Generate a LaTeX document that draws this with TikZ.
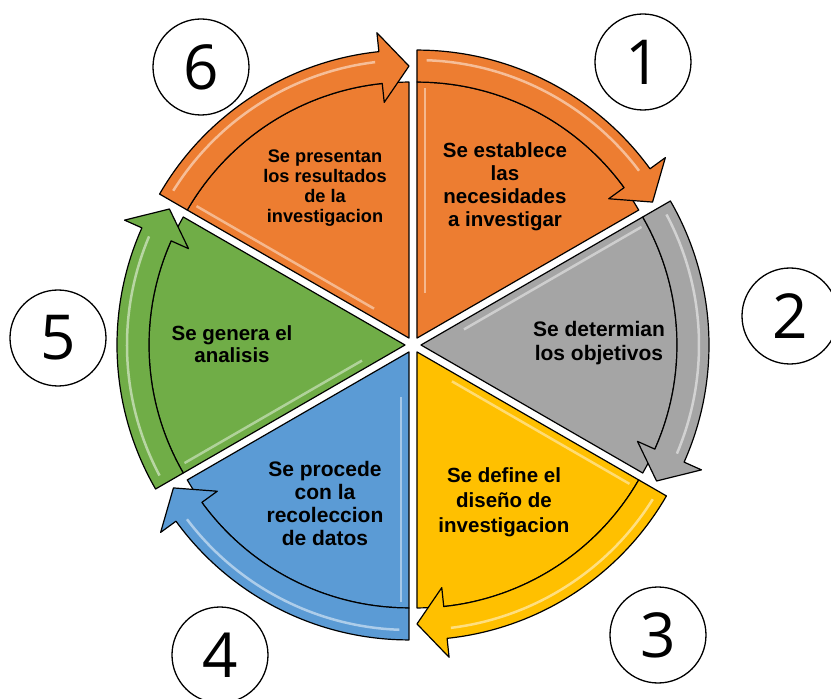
\documentclass[tikz,border=0pt]{standalone}
\usepackage{fontspec}
\setmainfont{Liberation Sans}
\newfontfamily\numfont{Open Sans}
\definecolor{segorange}{HTML}{ED7D31}
\definecolor{seggray}{HTML}{A5A5A5}
\definecolor{segyellow}{HTML}{FFC000}
\definecolor{segblue}{HTML}{5B9BD5}
\definecolor{seggreen}{HTML}{70AD47}
\tikzset{
  segline/.style={draw=black, line width=1.2pt, line join=round},
  numcircle/.style={draw, circle, line width=1.3pt, minimum size=96pt, inner sep=0pt,
    font=\numfont\fontsize{62}{62}\selectfont},
  steptext/.style={align=center, inner sep=0pt, font=\bfseries\fontsize{21}{23}\selectfont}
}
\begin{document}
\begin{tikzpicture}[x=1pt,y=1pt]
\useasboundingbox (-413,-354) rectangle (418,345);
\foreach \s/\col in {90/segorange,30/seggray,-30/segyellow,-90/segblue,-150/seggreen,150/segorange}{
  \begin{scope}[shift={(\s-30:8)},rotate=\s-90]
    \filldraw[fill=\col,segline] (0,0) -- (90:256) arc[start angle=90,end angle=30,radius=256] -- cycle;
    \draw[\col!55!white,line width=2.5pt] (8,45) -- (8,250);
    \filldraw[fill=\col,segline] (90:256) -- (90:288) arc[start angle=90,end angle=36,radius=288]
      -- (36:307) -- (30:272) -- (36:237) -- (36:256) arc[start angle=36,end angle=90,radius=256] -- cycle;
    \draw[\col!50!white,line width=2.5pt] (88:278) arc[start angle=88,end angle=37,radius=278];
  \end{scope}
}
% step texts
\node[steptext,font=\bfseries\fontsize{20.5}{23}\selectfont] (t1) at (92,158) {Se establece\\las\\necesidades\\a investigar};
\node[steptext,font=\bfseries\fontsize{21}{24}\selectfont] (t2) at (186,2) {Se determian\\los objetivos};
\node[steptext,font=\bfseries\fontsize{20.5}{25}\selectfont] (t3) at (91,-157) {Se define el\\dise\~no de\\investigacion};
\node[steptext] (t4) at (-88,-158) {Se procede\\con la\\recoleccion\\de datos};
\node[steptext,font=\bfseries\fontsize{20.5}{22}\selectfont] (t5) at (-181,1) {Se genera el\\analisis};
\node[steptext,font=\bfseries\fontsize{18.2}{20}\selectfont] (t6) at (-88,157) {Se presentan\\los resultados\\de la\\investigacion};
% numbers
\node[numcircle] (n1) at (230,283) {1};
\node[numcircle] (n2) at (377,29) {2};
\node[numcircle] (n3) at (245,-290) {3};
\node[numcircle] (n4) at (-193,-310) {4};
\node[numcircle] (n5) at (-355,7) {5};
\node[numcircle] (n6) at (-212,278) {6};
\end{tikzpicture}
\end{document}
